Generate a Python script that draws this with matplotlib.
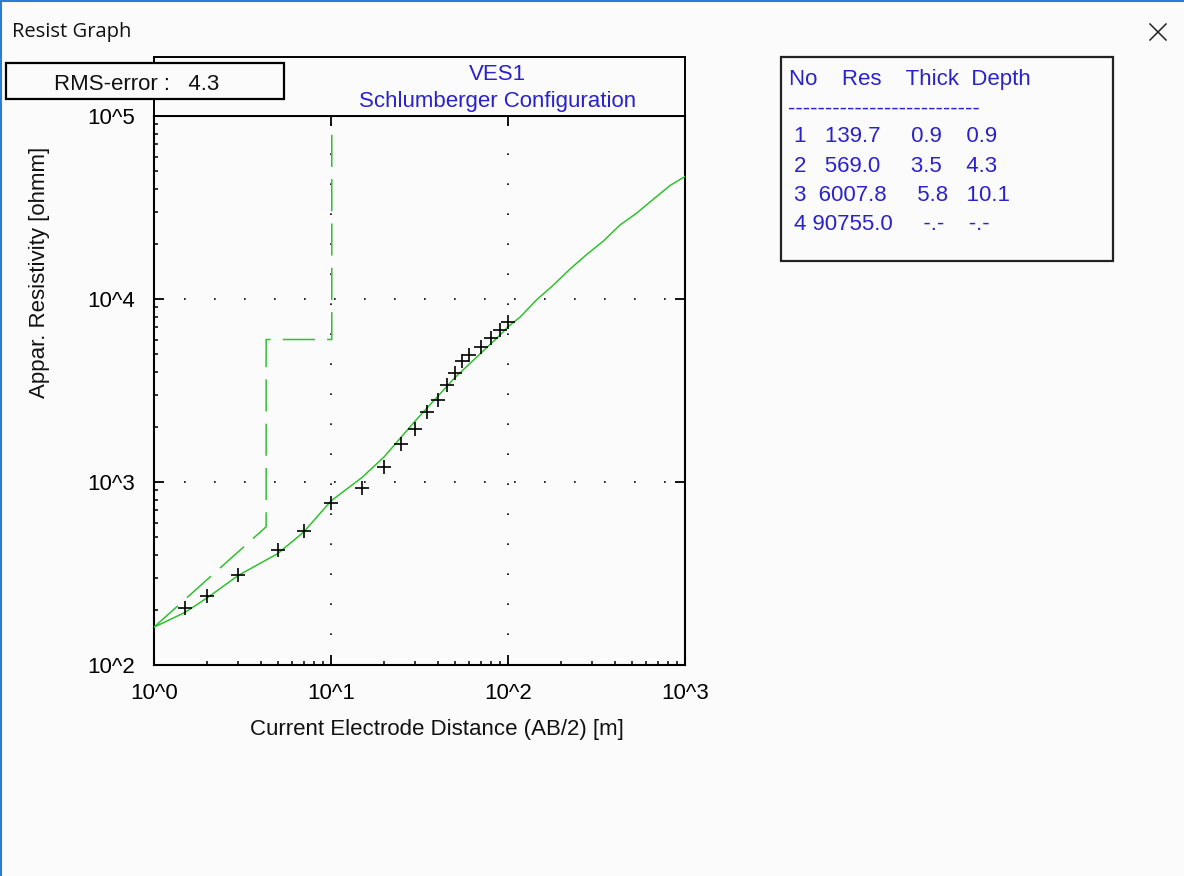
import matplotlib
matplotlib.use("Agg")
import matplotlib.pyplot as plt
from matplotlib.patches import Rectangle
from matplotlib.lines import Line2D
from matplotlib.ticker import FixedLocator, LogLocator, NullFormatter

# ---------------- data ----------------
# measured apparent resistivity (AB/2 [m], rho_a [ohm m])
ab2 = [1.5, 2, 3, 5, 7, 10, 15, 20, 25, 30, 35, 40, 45, 50, 55, 60, 70, 80, 90, 100]
rho_a = [206, 238, 311, 424, 537, 771, 929, 1215, 1607, 1954, 2423, 2799,
         3373, 3948, 4594, 4950, 5488, 6134, 6750, 7480]

# fitted (calculated) sounding curve
fit_x = [1, 1.5, 2, 3, 5, 7, 10, 15, 20, 30, 50, 90, 100, 117, 145, 180, 224,
         279, 345, 429, 534, 662, 823, 1000]
fit_y = [161, 194, 233, 309, 406, 532, 788, 1060, 1375, 2163, 3710, 6340, 7050,
         7960, 9890, 11890, 14570, 17540, 20690, 25350, 29500, 35070, 41700, 46700]

# layered model
layer_no = [1, 2, 3, 4]
layer_res = [139.7, 569.0, 6007.8, 90755.0]
layer_thick = [0.9, 3.5, 5.8]
layer_depth = [0.9, 4.3, 10.1]

rms_error = 4.3
x_ticks = [1, 10, 100, 1000]
x_ticklabels = ["10^0", "10^1", "10^2", "10^3"]
y_ticks = [1e2, 1e3, 1e4, 1e5]
y_ticklabels = ["10^2", "10^3", "10^4", "10^5"]

# ---------------- style ----------------
W, H = 1184, 876
BG = "#fbfbfb"
GREEN = "#30c030"
BLUE = "#2a22cc"
FONT = ["Liberation Sans", "DejaVu Sans"]
plt.rcParams["font.family"] = FONT


def fx(px):
    return px / W


def fy(py):
    return 1 - py / H


fig = plt.figure(figsize=(W / 100, H / 100), dpi=100, facecolor=BG)

# window decoration
fig.add_artist(Line2D([fx(1), fx(1)], [0, 1], transform=fig.transFigure,
                      color="#2b7cd3", lw=1.5))
fig.add_artist(Line2D([0, 1], [fy(1), fy(1)], transform=fig.transFigure,
                      color="#2b7cd3", lw=1.5))
fig.text(fx(12), fy(32), "Resist Graph", fontsize=14.5, color="#111111",
         ha="left", va="center", family=["Open Sans", "DejaVu Sans"])
for (x0, y0, x1, y1) in [(1150, 24, 1166, 40), (1150, 40, 1166, 24)]:
    fig.add_artist(Line2D([fx(x0), fx(x1)], [fy(y0), fy(y1)],
                          transform=fig.transFigure, color="#222222", lw=1.1))

# axes
ax = fig.add_axes([fx(154), fy(665), fx(685) - fx(154), fy(116) - fy(665)])
ax.set_facecolor(BG)
ax.set_xscale("log")
ax.set_yscale("log")
ax.set_xlim(1, 1000)
ax.set_ylim(100, 1e5)

# model (step) line
step_x = [fit_x[0], layer_depth[1], layer_depth[1], layer_depth[2], layer_depth[2]]
step_y = [fit_y[0], layer_res[1], layer_res[2], layer_res[2], layer_res[3]]
ax.plot(step_x, step_y, color=GREEN, lw=1.1, dashes=(21, 8), zorder=3)

# fitted curve
ax.plot(fit_x, fit_y, color=GREEN, lw=1.1, zorder=3)

# measured data
ax.plot(ab2, rho_a, ls="none", marker="+", ms=10, mew=1.2, color="black", zorder=4)

# grid
ax.grid(which="major", color="black", linestyle=(0, (1, 17)), linewidth=1.2)

ax.xaxis.set_major_locator(FixedLocator(x_ticks))
ax.set_xticklabels(x_ticklabels)
ax.yaxis.set_major_locator(FixedLocator(y_ticks))
ax.set_yticklabels(y_ticklabels)
ax.xaxis.set_minor_locator(LogLocator(base=10, subs=range(2, 10)))
ax.yaxis.set_minor_locator(LogLocator(base=10, subs=range(2, 10)))
ax.xaxis.set_minor_formatter(NullFormatter())
ax.yaxis.set_minor_formatter(NullFormatter())

ax.tick_params(which="major", direction="in", length=7.5, width=1.3,
               top=True, right=True, labelsize=16, colors="black")
ax.tick_params(axis="x", which="major", pad=13)
ax.tick_params(axis="y", which="major", pad=14)
ax.tick_params(which="minor", direction="in", length=3.2, width=1.1,
               top=False, right=False)
for s in ax.spines.values():
    s.set_linewidth(1.5)
    s.set_color("black")

# axis labels
fig.text(fx(437), fy(730), "Current Electrode Distance (AB/2) [m]",
         fontsize=16, ha="center", va="center", color="#111111")
fig.text(fx(40), fy(272), "Appar. Resistivity [ohmm]", fontsize=16,
         rotation=90, ha="center", va="center", color="#111111")

# title box
fig.add_artist(Rectangle((fx(154), fy(116)), fx(685) - fx(154), fy(57) - fy(116),
                         transform=fig.transFigure, facecolor=BG,
                         edgecolor="black", lw=1.4, zorder=1))
fig.text(fx(497), fy(74), "VES1", fontsize=16, color=BLUE, ha="center",
         va="center", zorder=2)
fig.text(fx(498), fy(102), "Schlumberger Configuration", fontsize=16,
         color=BLUE, ha="center", va="center", zorder=2)

# RMS box
fig.add_artist(Rectangle((fx(6), fy(99)), fx(284) - fx(6), fy(63) - fy(99),
                         transform=fig.transFigure, facecolor=BG,
                         edgecolor="black", lw=1.6, zorder=5))
fig.text(fx(54), fy(84), f"RMS-error :   {rms_error:.1f}", fontsize=16,
         color="#111111", ha="left", va="center", zorder=6)

# layer table
fig.add_artist(Rectangle((fx(781), fy(261)), fx(1113) - fx(781), fy(57) - fy(261),
                         transform=fig.transFigure, facecolor=BG,
                         edgecolor="#222222", lw=1.6, zorder=1))
fig.text(fx(789), fy(80), "No    Res    Thick  Depth", fontsize=16, color=BLUE,
         ha="left", va="center", zorder=2)
fig.text(fx(788), fy(109), "-" * 26, fontsize=16, color=BLUE, ha="left",
         va="center", zorder=2)
row_y = [137, 167, 196, 225]
for i, n in enumerate(layer_no):
    thick = f"{layer_thick[i]:.1f}" if i < len(layer_thick) else "-.-"
    depth = f"{layer_depth[i]:.1f}" if i < len(layer_depth) else "-.-"
    row = f"{n} {layer_res[i]:>7.1f}     {thick}  {depth:>5}"
    fig.text(fx(794), fy(row_y[i]), row, fontsize=16, color=BLUE,
             ha="left", va="center", zorder=2)

fig.savefig("out.png", dpi=100, facecolor=BG)
